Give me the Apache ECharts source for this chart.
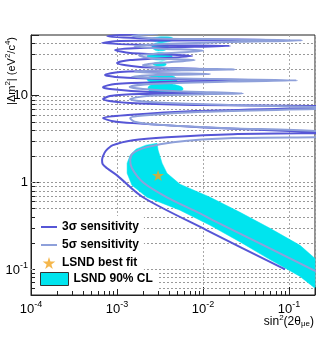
<!DOCTYPE html>
<html><head><meta charset="utf-8">
<script src="https://cdn.jsdelivr.net/npm/echarts@6/dist/echarts.min.js"></script>
<style>html,body{margin:0;padding:0;background:#fff}#c{width:323px;height:348px}</style>
</head><body><div id="c"></div>
<script>
// ---- data (sin^2(2theta), dm^2) ----
const sens3sigma = [
 [0.0898,0.0986],[0.0111,0.279],[0.002,0.671],[0.001,1.2],[7.66e-4,1.45],[6.8e-4,1.62],[6.7e-4,1.8],
 [6.87e-4,2.0],[7.4e-4,2.3],[8.97e-4,2.68],[1.53e-3,3.06],[3.8e-3,3.31],[0.0223,3.59],[0.4,3.72],
 [0.2,3.8],[0.00923,4.32],[1.53e-3,4.81],[8.97e-4,5.07],[6.87e-4,5.5],[1.34e-3,5.95],
 [8.07e-3,6.62],[0.2,7.17],[0.4,7.3],[0.2,7.56],[9.2e-3,7.77],[1.42e-3,8.19],[6.87e-4,9.11],
 [8.3e-4,9.87],[1.85e-3,10.4],[0.0138,10.7],[2.42e-3,11.0],[8.3e-4,11.9],[6.87e-4,12.5],
 [9.5e-4,13.6],[3.16e-3,14.3],[0.06,15.1],[4.13e-3,15.5],[9.5e-4,16.4],[7.25e-4,17.3],
 [1.08e-3,18.7],[0.0111,20.2],[1.85e-3,21.3],[1.0e-3,23.8],[1.42e-3,25.7],[7.45e-3,28.6],
 [1.42e-3,31.0],[9.5e-4,33.6],[1.85e-3,35.4],[0.0206,37.4],[2.42e-3,38.4],[6.7e-4,40.4],
 [1.08e-3,42.7],[0.0687,43.8],[2.42e-3,45.6],[7.66e-4,48.7],[1.85e-3,51.5]
];
const sens5sigma = [
 [0.3,0.078],[0.0131,0.364],[9.2e-3,0.438],[3.8e-3,0.671],[2.0e-3,1.0],[1.49e-3,1.45],
 [1.42e-3,1.8],[1.53e-3,2.16],[2.23e-3,2.54],[4.48e-3,2.9],[0.0223,3.23],[0.4,3.4],
 [0.2,3.9],[0.02,4.2],[3e-3,4.6],[1.6e-3,5.0],[1.42e-3,5.5],[2.0e-3,5.9],[0.01,6.5],
 [0.2,7.0],[0.4,7.15],[0.2,7.4],[0.02,7.8],[3e-3,8.3],[1.42e-3,9.1],[2.2e-3,9.9],
 [0.012,10.4],[0.029,10.6],[5e-3,11.2],[2e-3,11.9],[1.4e-3,12.6],[2.5e-3,13.6],[0.02,14.5],
 [0.124,15.0],[0.02,15.4],[3e-3,15.9],[1.5e-3,16.5],[3e-3,17.3],[0.0121,17.7],[3e-3,18.2],
 [1.6e-3,18.8],[3e-3,19.5],[0.0236,20.0],[4e-3,20.8],[2e-3,22.5],[3.5e-3,24],[8e-3,25.7],
 [2.5e-3,27],[1.8e-3,29],[3e-3,30.5],[0.010,33],[3e-3,35],[1.6e-3,37],[3e-3,39],
 [0.02,41.5],[0.142,43.3],[0.02,44.5],[2.5e-3,46],[1.5e-3,49],[3e-3,52]
];
const lsndBand = [
 [2.92e-3,2.82],[3.0e-3,2.35],[3.34e-3,1.66],[3.81e-3,1.27],[5.4e-3,0.948],[0.0121,0.671],
 [0.0269,0.45],[0.06,0.294],[0.134,0.187],[0.262,0.132],
 [0.262,0.06],[0.134,0.082],[0.06,0.128],[0.0269,0.205],[0.0121,0.318],[5.4e-3,0.475],
 [2.23e-3,0.671],[1.49e-3,0.923],[1.31e-3,1.27],[1.31e-3,1.66],[1.42e-3,2.05],[1.66e-3,2.41],
 [2.17e-3,2.68]
];
const lsndIslands = [
 [[2.42e-3,44.4],[2.8e-3,46.8],[3.6e-3,47.6],[4.48e-3,46],[4.2e-3,42.5],[3.3e-3,41.5],[2.6e-3,42.5]],
 [[2.55e-3,37.4],[2.9e-3,40.5],[3.5e-3,40.8],[3.92e-3,38.5],[3.8e-3,34.5],[3.2e-3,32.8],[2.7e-3,34]],
 [[2.23e-3,28.6],[2.7e-3,30.8],[3.6e-3,31],[4.36e-3,29],[4.0e-3,26.4],[3.0e-3,25.7],[2.5e-3,26.8]],
 [[2.62e-3,23.1],[3.0e-3,24.3],[3.6e-3,24],[3.7e-3,22.5],[3.2e-3,21.8],[2.8e-3,22.1]],
 [[2.23e-3,15.5],[2.6e-3,17.0],[3.3e-3,17.8],[4.3e-3,17.0],[4.98e-3,15.3],[4.6e-3,14.0],[3.5e-3,13.5],[2.6e-3,14.0]],
 [[2.29e-3,12.2],[2.6e-3,13.4],[3.5e-3,13.8],[4.8e-3,13.3],[5.85e-3,12.0],[5.0e-3,10.9],[3.6e-3,10.4],[2.6e-3,10.8]]
];
const lsndBestFit = [[0.003,1.2]];
const xRange = [1e-4, 0.2];
const yRange = [0.05, 50];
const yGridValues = [0.06,0.07,0.08,0.09,0.1,0.2,0.3,0.4,0.5,0.6,0.7,0.8,0.9,1,2,3,4,5,6,7,8,9,10,20,30,40];
const xMinorTicks = [2e-4,3e-4,4e-4,5e-4,6e-4,7e-4,8e-4,9e-4,2e-3,3e-3,4e-3,5e-3,6e-3,7e-3,8e-3,9e-3,0.02,0.03,0.04,0.05,0.06,0.07,0.08,0.09];
const yMinorTicks = [0.06,0.07,0.08,0.09,0.2,0.3,0.4,0.5,0.6,0.7,0.8,0.9,2,3,4,5,6,7,8,9,20,30,40];
const seriesNames = ['3σ sensitivity','5σ sensitivity','LSND best fit','LSND 90% CL'];

const FONT = 'Liberation Sans';
const C3 = '#5656d6', C5 = '#8ea0da', CYAN = '#00e4ee', STAR = '#f2a51f';
const starPath = 'path://M50,0 L61,35 L98,35 L68,57 L79,91 L50,70 L21,91 L32,57 L2,35 L39,35 Z';
const isDecade = v => Math.abs(Math.log10(v) - Math.round(Math.log10(v))) < 1e-6;
const richTick = {
  b: {fontSize: 13, fontFamily: FONT, color: '#000', verticalAlign: 'bottom'},
  s: {fontSize: 9, fontFamily: FONT, color: '#000', verticalAlign: 'bottom', padding: [0,0,7,0]}
};
const chart = echarts.init(document.getElementById('c'), null, {renderer: 'canvas'});

function polyRender(polys, smooth) {
  return function (params, api) {
    const cs = params.coordSys;
    const pts = polys[params.dataIndex].map(p => api.coord(p));
    const clipped = echarts.graphic.clipPointsByRect(pts, {x: cs.x, y: cs.y, width: cs.width, height: cs.height});
    return {type: 'polygon', shape: {points: clipped, smooth: smooth}, style: {fill: CYAN, stroke: CYAN, lineWidth: 0.5}};
  };
}

chart.setOption({
  animation: false,
  backgroundColor: '#fff',
  grid: {left: 31, right: 8, top: 35, bottom: 53, show: true, borderColor: '#222', borderWidth: 1, backgroundColor: 'transparent'},
  xAxis: {
    type: 'log', logBase: 10, min: xRange[0], max: xRange[1],
    axisLine: {show: true, lineStyle: {color: '#222'}},
    axisTick: {show: true, inside: true, length: 8, lineStyle: {color: '#222'}},
    axisLabel: {margin: 5, formatter: v => isDecade(v) ? '{b|10}{s|' + Math.round(Math.log10(v)) + '}' : '', rich: richTick},
    splitLine: {show: true, lineStyle: {color: '#aaa', type: [2,2]}}
  },
  yAxis: {
    type: 'log', logBase: 10, min: yRange[0], max: yRange[1],
    axisLine: {show: true, lineStyle: {color: '#222'}},
    axisTick: {show: true, inside: true, length: 8, lineStyle: {color: '#222'}},
    axisLabel: {margin: 3, formatter: v => {
      if (!isDecade(v)) return '';
      const e = Math.round(Math.log10(v));
      if (e === 0) return '{b|1}';
      if (e === 1) return '{b|10}';
      return '{b|10}{s|' + e + '}';
    }, rich: richTick},
    splitLine: {show: false}
  },
  legend: [
    {left: 35, top: 216, orient: 'vertical', itemWidth: 16, itemHeight: 12, itemGap: 6,
     backgroundColor: '#fff', padding: [5,5,5,5], selectedMode: false,
     textStyle: {fontFamily: FONT, fontWeight: 'bold', fontSize: 12, color: '#000'},
     data: [{name: seriesNames[0], itemStyle: {opacity: 0}}, {name: seriesNames[1], itemStyle: {opacity: 0}},
            {name: seriesNames[2], icon: starPath}]},
    {left: 35, top: 270, orient: 'vertical', itemWidth: 28, itemHeight: 13,
     backgroundColor: '#fff', padding: [2,5,3,5], selectedMode: false,
     textStyle: {fontFamily: FONT, fontWeight: 'bold', fontSize: 12, color: '#000'},
     data: [{name: seriesNames[3], icon: 'rect', itemStyle: {color: CYAN, borderColor: '#333', borderWidth: 1}}]}
  ],
  graphic: [
    {type: 'text', right: 9, top: 314, silent: true, style: {
      text: '{b|sin}{s|2}{b|(2θ}{u|μe}{b|)}',
      rich: {
        b: {fontSize: 12, fontFamily: FONT, fill: '#000', verticalAlign: 'bottom'},
        s: {fontSize: 8, fontFamily: FONT, fill: '#000', verticalAlign: 'bottom', padding: [0,0,6,0]},
        u: {fontSize: 8, fontFamily: FONT, fill: '#000', verticalAlign: 'top', padding: [8,0,0,0]}
      }}},
    {type: 'text', x: 4, y: 37, rotation: Math.PI / 2, silent: true, style: {
      text: '{b|\u007cΔm}{s|2}{b|\u007c (eV}{s|2}{b|/c}{s|4}{b|)}', align: 'right', verticalAlign: 'top',
      rich: {
        b: {fontSize: 11, fontFamily: FONT, fill: '#000', verticalAlign: 'bottom'},
        s: {fontSize: 8, fontFamily: FONT, fill: '#000', verticalAlign: 'bottom', padding: [0,0,5,0]}
      }}}
  ],
  series: [
    {type: 'custom', silent: true, z: 1, data: yGridValues.map(v => [xRange[0], v]),
     renderItem: (params, api) => {
       const cs = params.coordSys;
       const y = Math.round(api.coord([api.value(0), api.value(1)])[1]) + 0.5;
       return {type: 'line', shape: {x1: cs.x, y1: y, x2: cs.x + cs.width, y2: y}, style: {stroke: '#999', lineWidth: 1, lineDash: [2,2]}};
     }},
    {name: seriesNames[3], type: 'custom', silent: true, z: 2, data: lsndBand.slice(0,1),
     itemStyle: {color: CYAN}, renderItem: polyRender([lsndBand], 0)},
    {type: 'custom', silent: true, z: 2, data: lsndIslands.map(p => p[0]),
     renderItem: polyRender(lsndIslands, 0.5)},
    {name: seriesNames[0], type: 'line', data: sens3sigma, symbol: 'none', smooth: 0.3, clip: true, z: 3,
     lineStyle: {color: C3, width: 2}, itemStyle: {color: C3}},
    {name: seriesNames[1], type: 'line', data: sens5sigma, symbol: 'none', smooth: 0.3, clip: true, z: 4,
     lineStyle: {color: C5, width: 2}, itemStyle: {color: C5}},
    {name: seriesNames[2], type: 'scatter', data: lsndBestFit, symbol: starPath, symbolSize: 12, symbolKeepAspect: true, z: 5,
     itemStyle: {color: STAR}},
    {type: 'custom', silent: true, z: 6, data: xMinorTicks.map(v => [v, yRange[0]]),
     renderItem: (params, api) => {
       const cs = params.coordSys;
       const x = Math.round(api.coord([api.value(0), api.value(1)])[0]) + 0.5;
       const yb = cs.y + cs.height;
       return {type: 'line', shape: {x1: x, y1: yb, x2: x, y2: yb - 4}, style: {stroke: '#222', lineWidth: 1}};
     }},
    {type: 'custom', silent: true, z: 6, data: yMinorTicks.map(v => [xRange[0], v]),
     renderItem: (params, api) => {
       const cs = params.coordSys;
       const y = Math.round(api.coord([api.value(0), api.value(1)])[1]) + 0.5;
       return {type: 'line', shape: {x1: cs.x, y1: y, x2: cs.x + 4, y2: y}, style: {stroke: '#222', lineWidth: 1}};
     }}
  ]
});
</script></body></html>
